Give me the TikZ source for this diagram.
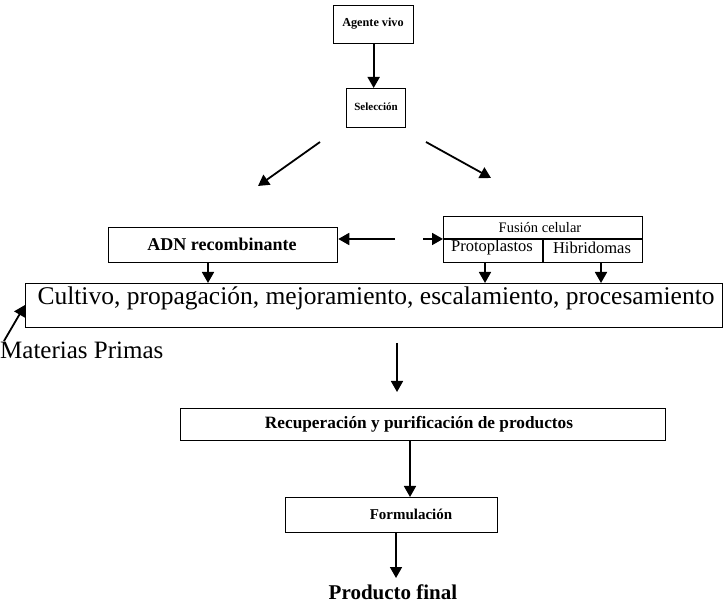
\documentclass[tikz,border=0pt]{standalone}
\usepackage{fontspec}
\setmainfont{Liberation Serif}
\usetikzlibrary{arrows.meta}
\begin{document}
\begin{tikzpicture}[x=1pt,y=-1pt,
  box/.style={draw, line width=1.3pt, inner sep=0pt, anchor=north west},
  arr/.style={line width=1.8pt, -{Triangle[length=11pt,width=12pt]}},
  txt/.style={inner sep=0pt}]
\useasboundingbox (0,0) rectangle (724,604);

% boxes
\node[box, minimum width=80pt, minimum height=38pt] (agente) at (333,5) {};
\node[txt, font=\bfseries\fontsize{12.2}{12.2}\selectfont] (tagente) at (373,24) {Agente vivo};

\node[box, minimum width=59pt, minimum height=39pt] (sel) at (346,88) {};
\node[txt, font=\bfseries\fontsize{11}{11}\selectfont] (tsel) at (376,107) {Selección};

\node[box, minimum width=229pt, minimum height=35pt] (adn) at (108,227) {};
\node[txt, font=\bfseries\fontsize{18}{18}\selectfont] (tadn) at (222,244) {ADN recombinante};

\node[box, minimum width=199pt, minimum height=46pt] (fus) at (443,216) {};
\coordinate (fdl) at (443,239);
\coordinate (fdr) at (642,239);
\coordinate (fvt) at (543,239);
\draw[line width=1.3pt] (fdl) -- (fdr);
\draw[line width=1.3pt] (fvt) -- (fvt |- fus.south);
\node[txt, font=\fontsize{14.5}{14.5}\selectfont] (tfus) at (540,227.5) {Fusión celular};
\node[txt, font=\fontsize{16.5}{16.5}\selectfont] (tprot) at (492,248) {Protoplastos};
\node[txt, font=\fontsize{16.5}{16.5}\selectfont] (thib) at (592,248) {Hibridomas};

\node[box, minimum width=697pt, minimum height=44pt] (cult) at (25,283) {};
\node[txt, font=\fontsize{25.5}{25.5}\selectfont, anchor=base] (tcult) at (376,305) {Cultivo, propagación, mejoramiento, escalamiento, procesamiento};

\node[txt, font=\fontsize{25}{25}\selectfont, anchor=base west] (mp) at (0,359) {Materias Primas};

\node[box, minimum width=485pt, minimum height=32pt] (rec) at (180,408) {};
\node[txt, font=\bfseries\fontsize{17.3}{17.3}\selectfont] (trec) at (419,424) {Recuperación y purificación de productos};

\node[box, minimum width=212pt, minimum height=35pt] (form) at (285,497) {};
\node[txt, font=\bfseries\fontsize{15}{15}\selectfont] (tform) at (411,514.5) {Formulación};

\node[txt, font=\bfseries\fontsize{21}{21}\selectfont, anchor=base] (prod) at (393,599) {Producto final};

% connectors
\draw[arr] (agente.south) -- (sel.north -| agente.south);
\coordinate (l1) at (320,142);
\coordinate (l2) at (258,186);
\coordinate (r1) at (426,142);
\coordinate (r2) at (491,178);
\draw[arr] (l1) -- (l2);
\draw[arr] (r1) -- (r2);

\coordinate (g1) at (395,239);
\coordinate (g2) at (423,239);
\draw[arr] (g1) -- (adn.east |- g1);
\draw[arr] (g2) -- (fus.west |- g2);

\draw[arr] (adn.south -| 208,0) -- (cult.north -| 208,0);
\draw[arr] (fus.south -| 485,0) -- (cult.north -| 485,0);
\draw[arr] (fus.south -| 601,0) -- (cult.north -| 601,0);

\coordinate (m1) at (4,341);
\draw[arr] (m1) -- (cult.west |- 0,305);

\coordinate (c1) at (397,343);
\coordinate (c2) at (397,392);
\draw[arr] (c1) -- (c2);

\draw[arr] (rec.south -| 410,0) -- (form.north -| 410,0);
\coordinate (pf) at (396,578);
\draw[arr] (form.south -| pf) -- (pf);
\end{tikzpicture}
\end{document}
